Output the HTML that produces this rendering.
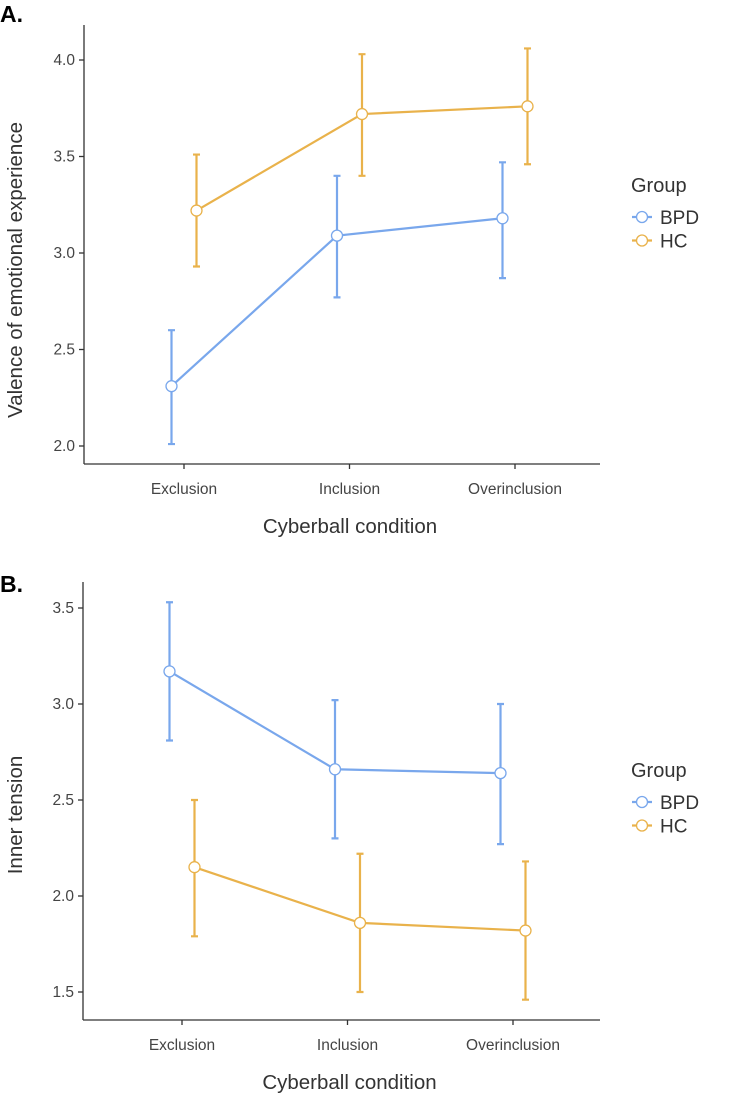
<!DOCTYPE html>
<html><head><meta charset="utf-8"><style>
html,body{margin:0;padding:0;background:#fff;}
svg text{font-family:"Liberation Sans",sans-serif;}
</style></head><body>
<svg id="chart" width="745" height="1097" viewBox="0 0 745 1097" xmlns="http://www.w3.org/2000/svg"></svg>
<script>
const categories = ["Exclusion","Inclusion","Overinclusion"];
const groups = ["BPD","HC"];
// Panel A: valence
const aTicks = [2.0,2.5,3.0,3.5,4.0];
const aBPD = [2.31,3.09,3.18];
const aBPDlo = [2.01,2.77,2.87];
const aBPDhi = [2.60,3.40,3.47];
const aHC = [3.22,3.72,3.76];
const aHClo = [2.93,3.40,3.46];
const aHChi = [3.51,4.03,4.06];
// Panel B: inner tension
const bTicks = [1.5,2.0,2.5,3.0,3.5];
const bBPD = [3.17,2.66,2.64];
const bBPDlo = [2.81,2.30,2.27];
const bBPDhi = [3.53,3.02,3.00];
const bHC = [2.15,1.86,1.82];
const bHClo = [1.79,1.50,1.46];
const bHChi = [2.50,2.22,2.18];

const colors = {BPD:"#79a7ec", HC:"#e9b24b"};
const NS="http://www.w3.org/2000/svg";
const svg=document.getElementById('chart');
function el(tag,attrs,parent,txt){const e=document.createElementNS(NS,tag);for(const k in attrs)e.setAttribute(k,attrs[k]);if(txt!==undefined)e.textContent=txt;(parent||svg).appendChild(e);return e;}

function panel(cfg){
  const g=el('g',{});
  
  
  const y=v=>cfg.y0+(v-cfg.v0)*(cfg.y1-cfg.y0)/(cfg.v1-cfg.v0);
  const x=i=>cfg.x0+i*cfg.dx;
  const lab=el('text',{x:0,y:cfg.labelY,'font-size':23,'font-weight':'bold',fill:'#000'},g,cfg.label);
  
  
  const ya=el('line',{x1:cfg.ax,y1:cfg.top,x2:cfg.ax,y2:cfg.bottom,stroke:'#333','stroke-width':1.3},g);
  
  
  const xa=el('line',{x1:cfg.ax,y1:cfg.bottom,x2:cfg.right,y2:cfg.bottom,stroke:'#333','stroke-width':1.3},g);
  
  
  cfg.ticks.forEach(t=>{
    const tk=el('line',{x1:cfg.ax-5,y1:y(t),x2:cfg.ax,y2:y(t),stroke:'#333','stroke-width':1.3},g);
    
    
    const tl=el('text',{x:cfg.ax-9,y:y(t)+5,'font-size':15.5,'text-anchor':'end',fill:'#444'},g,t.toFixed(1));
    
    
  });
  categories.forEach((c,i)=>{
    const tk=el('line',{x1:x(i),y1:cfg.bottom,x2:x(i),y2:cfg.bottom+5,stroke:'#333','stroke-width':1.3},g);
    
    
    const tl=el('text',{x:x(i),y:cfg.bottom+30,'font-size':15.5,'text-anchor':'middle',fill:'#444'},g,c);
    
    
  });
  const xt=el('text',{x:(cfg.ax+cfg.right)/2+8,y:cfg.bottom+69,'font-size':20.5,'text-anchor':'middle',fill:'#333'},g,'Cyberball condition');
  
  
  const yt=el('text',{x:0,y:0,'font-size':20.5,'text-anchor':'middle',fill:'#333',transform:`translate(22,${cfg.ytY}) rotate(-90)`},g,cfg.ytitle);
  
  
  cfg.series.forEach(s=>{
    const col=colors[s.g];
    const off=s.g==='BPD'?-12.5:12.5;
    const pts=s.m.map((v,i)=>[x(i)+off,y(v)]);
    const ln=el('polyline',{points:pts.map(p=>p.join(',')).join(' '),fill:'none',stroke:col,'stroke-width':2.2},g);
    
    
    s.m.forEach((v,i)=>{
      const px=x(i)+off;
      const eb=el('path',{d:`M${px},${y(s.lo[i])}V${y(s.hi[i])}M${px-3.5},${y(s.lo[i])}H${px+3.5}M${px-3.5},${y(s.hi[i])}H${px+3.5}`,stroke:col,'stroke-width':2.2,fill:'none'},g);
      
      
    });
    s.m.forEach((v,i)=>{
      const pt=el('circle',{cx:x(i)+off,cy:y(v),r:5.5,fill:'#fff',stroke:col,'stroke-width':1.3},g);
      
      
    });
  });
  const lg=el('g',{},g);
  
  
  const lt=el('text',{x:631,y:cfg.legY,'font-size':20,fill:'#333'},lg,'Group');
  
  
  groups.forEach((gr,k)=>{
    const cy=cfg.legY+25+k*23.5;
    const e=el('g',{},lg);
    
    
    el('line',{x1:632,y1:cy,x2:652,y2:cy,stroke:colors[gr],'stroke-width':2.2},e);
    el('circle',{cx:642,cy:cy,r:5.5,fill:'#fff',stroke:colors[gr],'stroke-width':1.3},e);
    el('text',{x:660,y:cy+7,'font-size':19,fill:'#333'},e,gr);
  });
}
panel({name:'panel-a',label:'A.',labelY:22,ax:84,top:25,bottom:464,right:600,x0:184,dx:165.5,
  v0:2.0,v1:4.0,y0:446,y1:60,ticks:aTicks,ytitle:'Valence of emotional experience',legY:192,ytY:270,
  series:[{g:'BPD',m:aBPD,lo:aBPDlo,hi:aBPDhi},{g:'HC',m:aHC,lo:aHClo,hi:aHChi}]});
panel({name:'panel-b',label:'B.',labelY:592,ax:83,top:582,bottom:1020,right:600,x0:182,dx:165.5,
  v0:1.5,v1:3.5,y0:992,y1:608,ticks:bTicks,ytitle:'Inner tension',legY:777,ytY:815,
  series:[{g:'BPD',m:bBPD,lo:bBPDlo,hi:bBPDhi},{g:'HC',m:bHC,lo:bHClo,hi:bHChi}]});
</script>
</body></html>
